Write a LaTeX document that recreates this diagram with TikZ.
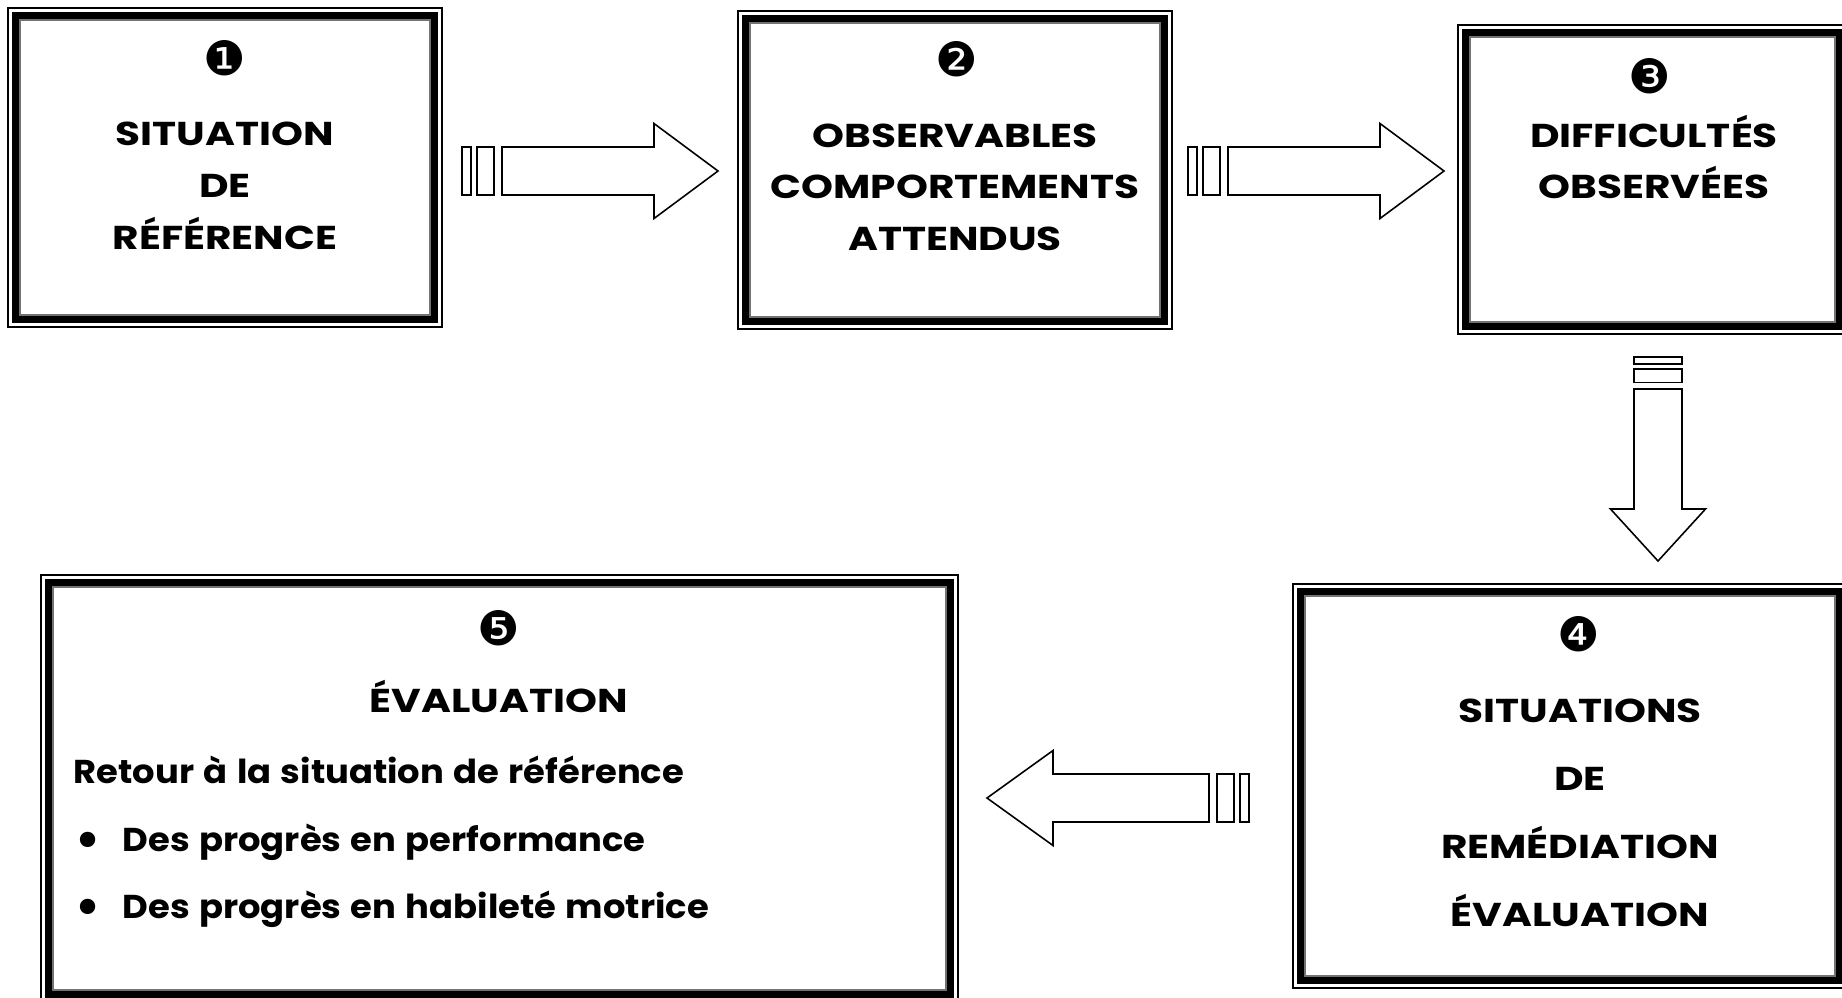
\documentclass[tikz,border=0pt]{standalone}
\usepackage{fontspec}
\setmainfont{Poppins}
\newfontfamily\capsfont{Poppins}[FakeStretch=1.23]
\newfontfamily\bodyfont{Poppins}[FakeStretch=1.07, WordSpace=1.25]
\newfontfamily\dingfont{DejaVu Sans}
\usetikzlibrary{positioning}

\tikzset{
  outerframe/.style={draw, line width=0.35pt, inner sep=0pt, outer sep=0pt},
  bandline/.style={line width=0.7mm},
  innerline/.style={draw=black!55, line width=0.3pt},
  arrowline/.style={draw, line width=0.45pt, fill=white},
  capstxt/.style={anchor=base, inner sep=0pt, font=\capsfont\bfseries\fontsize{9.4pt}{11pt}\selectfont},
  bodytxt/.style={anchor=base west, inner sep=0pt, font=\bodyfont\bfseries\fontsize{9.4pt}{11pt}\selectfont},
  numdot/.style={inner sep=0pt, font=\dingfont\fontsize{13.5pt}{14pt}\selectfont},
  bulletdot/.style={inner sep=0pt, font=\dingfont\fontsize{15pt}{15pt}\selectfont},
  pics/barrow/.style n args={3}{code={
    \draw[arrowline] (0,-24) -- ({#1-#2},-24) -- ({#1-#2},-47.5) -- (#1,0)
      -- ({#1-#2},47.5) -- ({#1-#2},24) -- (0,24) -- cycle;
    \draw[arrowline] ({-8*#3},-24) rectangle ({-25*#3},24);
    \draw[arrowline] ({-31*#3},-24) rectangle ({-40*#3},24);
  }}
}

\begin{document}
\begin{tikzpicture}[x=0.1mm, y=-0.1mm]
  \useasboundingbox (0,0) rectangle (1842,997);
  \clip (0,0) rectangle (1842,997);

  % frames
  \node[outerframe, minimum width=43.4mm, minimum height=31.9mm] (b1) at (225,167.5) {};
  \node[outerframe, minimum width=43.4mm, minimum height=31.8mm] (b2) at (955,170) {};
  \node[outerframe, minimum width=38.9mm, minimum height=30.9mm] (b3) at (1652.5,179.5) {};
  \node[outerframe, minimum width=55.4mm, minimum height=40.4mm] (b4) at (1570,786) {};
  \node[outerframe, minimum width=91.7mm, minimum height=42.7mm] (b5) at (499.5,788.5) {};
  \foreach \b in {b1,b2,b3,b4,b5}{
    \draw[bandline] ([shift={(7.5,7.5)}]\b.north west) rectangle ([shift={(-7.5,-7.5)}]\b.south east);
    \draw[innerline] ([shift={(12,12)}]\b.north west) rectangle ([shift={(-12,-12)}]\b.south east);
  }

  % numbers
  \node[numdot] (c1) at (225,58) {❶};
  \node[numdot] (c2) at (957,59) {❷};
  \node[numdot] (c3) at (1650,76) {❸};
  \node[numdot] (c4) at (1579,634) {❹};
  \node[numdot] (c5) at (499,628) {❺};

  % texts
  \foreach \txt [count=\i] in {SITUATION,DE,RÉFÉRENCE}
    \node[capstxt] (s1-\i) at (225,{93+52*\i}) {\txt};
  \foreach \txt [count=\i] in {OBSERVABLES,COMPORTEMENTS,ATTENDUS}
    \node[capstxt] (s2-\i) at (955,{95.5+51.5*\i}) {\txt};
  \foreach \txt [count=\i] in {DIFFICULTÉS,OBSERVÉES}
    \node[capstxt] (s3-\i) at (1654,{96+51*\i}) {\txt};
  \foreach \txt [count=\i] in {SITUATIONS,DE,REMÉDIATION,ÉVALUATION}
    \node[capstxt] (s4-\i) at (1580,{654+68*\i}) {\txt};
  \node[capstxt] (s5) at (499,712) {ÉVALUATION};
  \node[bodytxt] (r5) at (73,783) {Retour à la situation de référence};
  \foreach \txt [count=\i] in {Des progrès en performance,Des progrès en habileté motrice}{
    \node[bulletdot] (d\i) at (88,{779+67*\i}) {•};
    \node[bodytxt] (p\i) at (122,{784+67*\i}) {\txt};
  }

  % block arrows
  \pic (a12) at (502,171) {barrow={216}{64}{1}};
  \pic (a23) at (1228,171) {barrow={216}{64}{1}};
  \pic[rotate=-90] (a34) at (1658,389) {barrow={172}{52}{0.8}};
  \pic[rotate=180] (a45) at (1209,798) {barrow={222}{66}{1}};
\end{tikzpicture}
\end{document}
